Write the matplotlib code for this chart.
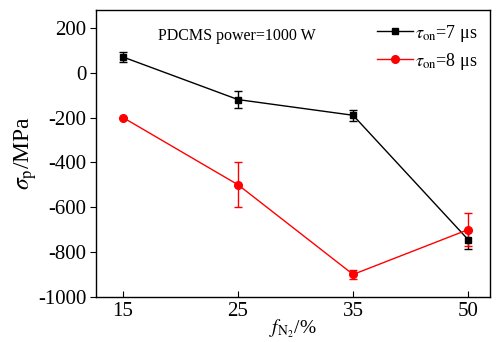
import matplotlib
matplotlib.use("Agg")
import matplotlib.pyplot as plt
from matplotlib.lines import Line2D
import numpy as np

x_labels = ["15", "25", "35", "50"]
stress_7us = [70, -120, -190, -745]
err_7us = [22, 38, 25, 40]
stress_8us = [-200, -500, -900, -700]
err_8us = [0, 100, 20, 75]

plt.rcParams["font.family"] = ["Liberation Serif", "DejaVu Serif"]
plt.rcParams["mathtext.fontset"] = "stix"
plt.rcParams["axes.unicode_minus"] = False

fig = plt.figure(figsize=(4.97, 3.42), dpi=100)
ax = fig.add_axes([0.193, 0.132, 0.793, 0.839])

x = np.arange(len(x_labels))
ax.errorbar(x, stress_7us, yerr=err_7us, color="black", marker="s", markersize=5,
            linewidth=1, elinewidth=1, capsize=3)
ax.errorbar(x, stress_8us, yerr=err_8us, color="red", marker="o", markersize=5.5,
            linewidth=1, elinewidth=1, capsize=3)

ax.set_xlim(-0.235, 3.19)
ax.set_ylim(-1000, 280)
ax.set_xticks(x)
ax.set_xticklabels(x_labels)
ax.set_yticks(np.arange(-1000, 201, 200))
ax.tick_params(axis="x", direction="in", labelsize=15, length=4, pad=4)
ax.tick_params(axis="y", direction="out", labelsize=15, length=4, pad=3)
for side in ax.spines.values():
    side.set_linewidth(1)

ax.set_xlabel(r"$f_{\mathrm{N_2}}$/%", fontsize=14, labelpad=-3)
ax.set_ylabel(r"$\sigma_{\mathrm{p}}$/MPa", fontsize=17, labelpad=-1)

ax.text(0.158, 0.895, "PDCMS power=1000 W", transform=ax.transAxes, fontsize=11.5)

handles = [
    Line2D([], [], color="black", marker="s", markersize=5, linewidth=1),
    Line2D([], [], color="red", marker="o", markersize=5.5, linewidth=1),
]
labels = [r"$\tau_{\mathrm{on}}$=7 μs", r"$\tau_{\mathrm{on}}$=8 μs"]
ax.legend(handles, labels, loc="upper right", frameon=False, fontsize=13,
          handlelength=2.0, handletextpad=0.1, borderaxespad=0.3, labelspacing=0.4)

fig.savefig("out.png", dpi=100)
